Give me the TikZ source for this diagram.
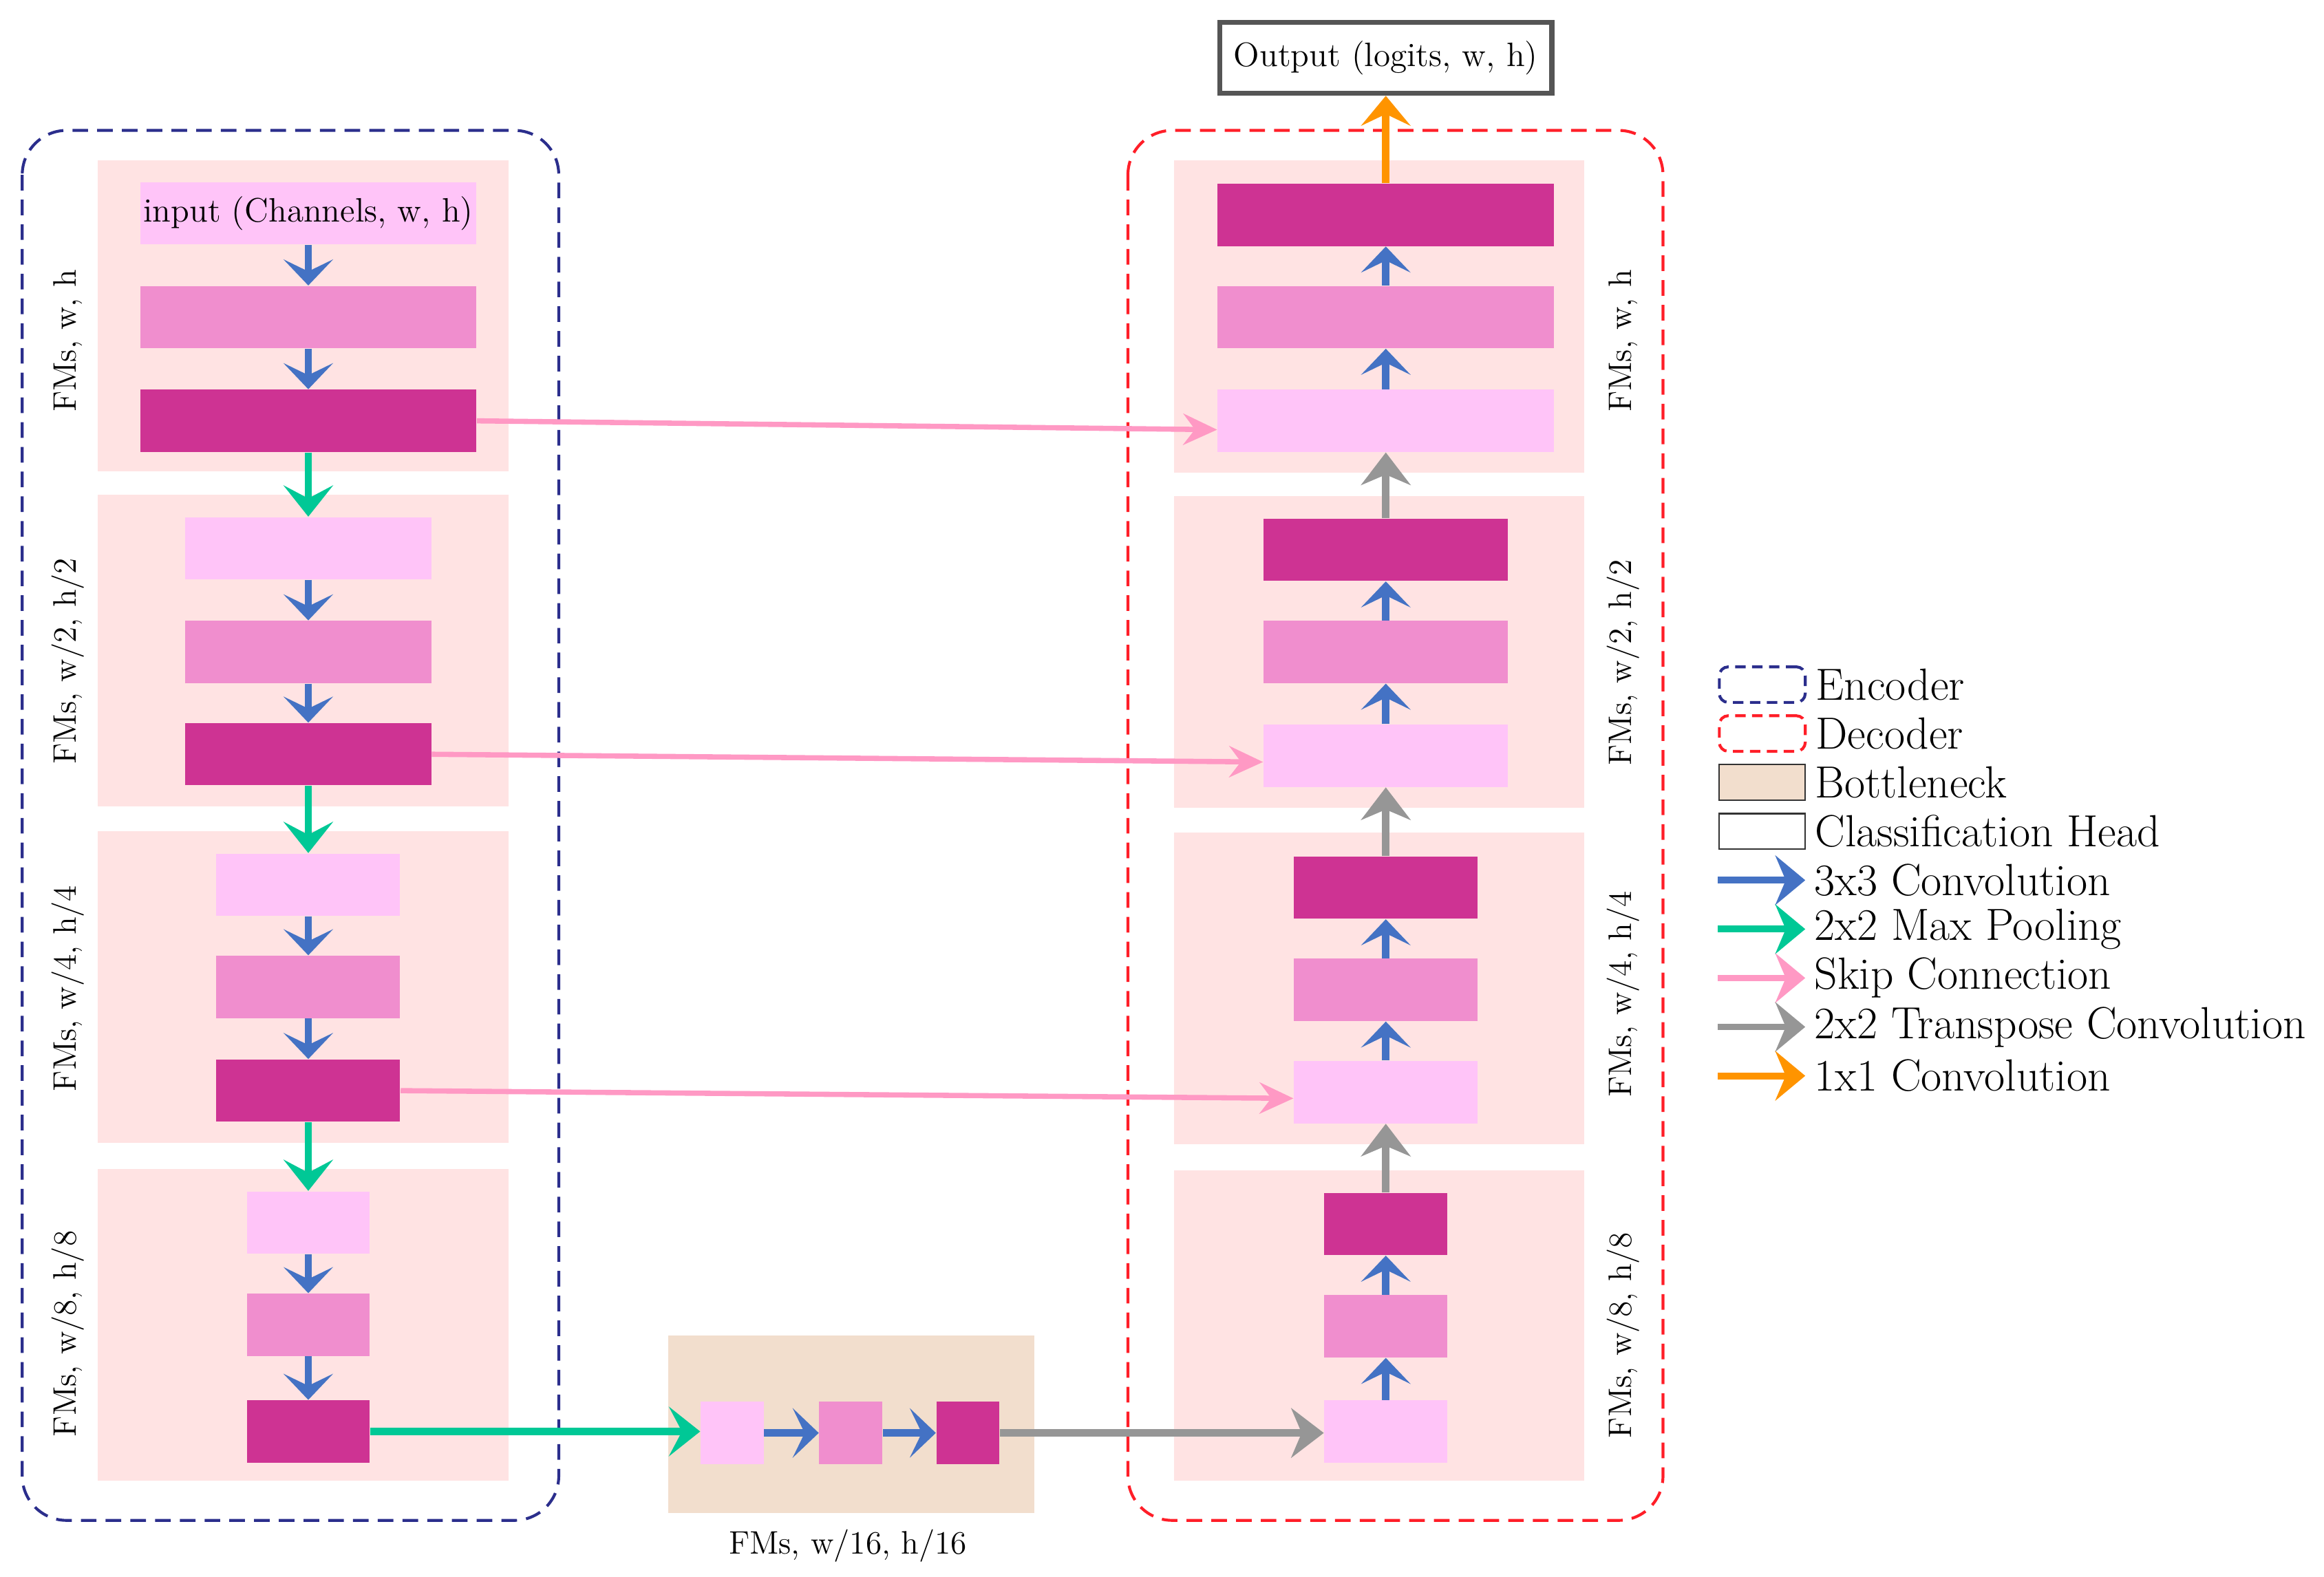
\documentclass[tikz,border=0pt]{standalone}
\usepackage{fontspec}
\usetikzlibrary{arrows.meta,positioning}

\definecolor{stageRose}{RGB}{255,227,227}
\definecolor{blockLight}{RGB}{255,196,248}
\definecolor{blockMid}{RGB}{240,142,206}
\definecolor{blockDark}{RGB}{206,51,147}
\definecolor{bottleTan}{RGB}{242,222,205}
\definecolor{convBlue}{RGB}{68,114,196}
\definecolor{poolGreen}{RGB}{0,200,150}
\definecolor{skipPink}{RGB}{255,153,196}
\definecolor{upGray}{RGB}{150,150,150}
\definecolor{headOrange}{RGB}{255,148,0}
\definecolor{encNavy}{RGB}{43,46,140}
\definecolor{decRed}{RGB}{255,30,40}
\definecolor{frameGray}{RGB}{85,85,85}

\begin{document}
\begin{tikzpicture}[x=0.02cm, y=-0.02cm, >=Stealth]

% --- Stijldefinities ---
\tikzset{
    block/.style={
        inner sep=0pt,
        minimum height=0.84cm,
        font=\fontsize{13}{15}\selectfont
    },
    lightBlock/.style={block, fill=blockLight},
    midBlock/.style={block, fill=blockMid},
    darkBlock/.style={block, fill=blockDark},
    convArrow/.style={
        draw=convBlue, line width=2.8pt,
        -{Stealth[length=10pt, width=19pt, inset=4.6pt]}
    },
    poolArrow/.style={
        draw=poolGreen, line width=2.8pt,
        -{Stealth[length=12pt, width=19pt, inset=5pt]}
    },
    skipArrow/.style={
        draw=skipPink, line width=2pt,
        -{Stealth[length=13pt, width=12pt, inset=4.5pt]}
    },
    transArrow/.style={
        draw=upGray, line width=2.8pt,
        -{Stealth[length=12.5pt, width=19pt, inset=4pt]}
    },
    headArrow/.style={
        draw=headOrange, line width=2.8pt,
        -{Stealth[length=11.5pt, width=19pt, inset=4.5pt]}
    },
    encoderFrame/.style={
        draw=encNavy, line width=1.1pt,
        dash pattern=on 6pt off 3.5pt, rounded corners=0.6cm
    },
    decoderFrame/.style={
        draw=decRed, line width=1.1pt,
        dash pattern=on 6pt off 3.5pt, rounded corners=0.6cm
    },
    stageLabel/.style={
        rotate=90,
        font=\fontsize{12.5}{15}\selectfont
    },
    legendBox/.style={
        minimum width=1.16cm, minimum height=0.48cm, inner sep=0pt
    },
    legendLabel/.style={
        anchor=west,
        font=\fontsize{17.3}{20}\selectfont
    },
    legendArrow/.style={
        draw=#1, line width=2.6pt,
        -{Stealth[length=11.5pt, width=19pt, inset=4pt]}
    }
}

\useasboundingbox (0,0) rectangle (1568,1064);

% =========================================================
% Achtergronden van de niveaus
% =========================================================

\fill[stageRose] (66,108) rectangle (343,318);
\fill[stageRose] (66,334) rectangle (343,544);
\fill[stageRose] (66,561) rectangle (343,771);
\fill[stageRose] (66,789) rectangle (343,999);

\fill[stageRose] (792,108) rectangle (1069,319);
\fill[stageRose] (792,335) rectangle (1069,545);
\fill[stageRose] (792,562) rectangle (1069,772);
\fill[stageRose] (792,790) rectangle (1069,999);

\fill[bottleTan] (451,901) rectangle (698,1021);

% Gestippelde kaders
\draw[encoderFrame] (15,88) rectangle (377,1026);
\draw[decoderFrame] (761,88) rectangle (1122,1026);

% =========================================================
% Encoder
% =========================================================

\node[lightBlock, minimum width=4.54cm] (e1a) at (208,144) {input (Channels, w, h)};
\node[midBlock, minimum width=4.54cm] (e1b) at (208,214) {};
\node[darkBlock, minimum width=4.54cm] (e1c) at (208,284) {};

\node[lightBlock, minimum width=3.32cm] (e2a) at (208,370) {};
\node[midBlock, minimum width=3.32cm] (e2b) at (208,440) {};
\node[darkBlock, minimum width=3.32cm] (e2c) at (208,509) {};

\node[lightBlock, minimum width=2.48cm] (e3a) at (208,597) {};
\node[midBlock, minimum width=2.48cm] (e3b) at (208,666) {};
\node[darkBlock, minimum width=2.48cm] (e3c) at (208,736) {};

\node[lightBlock, minimum width=1.66cm] (e4a) at (208,825) {};
\node[midBlock, minimum width=1.66cm] (e4b) at (208,894) {};
\node[darkBlock, minimum width=1.66cm] (e4c) at (208,966) {};

\draw[convArrow] (e1a.south) -- (e1b.north);
\draw[convArrow] (e1b.south) -- (e1c.north);
\draw[poolArrow] (e1c.south) -- (e2a.north);
\draw[convArrow] (e2a.south) -- (e2b.north);
\draw[convArrow] (e2b.south) -- (e2c.north);
\draw[poolArrow] (e2c.south) -- (e3a.north);
\draw[convArrow] (e3a.south) -- (e3b.north);
\draw[convArrow] (e3b.south) -- (e3c.north);
\draw[poolArrow] (e3c.south) -- (e4a.north);
\draw[convArrow] (e4a.south) -- (e4b.north);
\draw[convArrow] (e4b.south) -- (e4c.north);

% Labels
\node[stageLabel] (eLabA) at (46,230) {FMs, w, h};
\node[stageLabel] (eLabB) at (46,446) {FMs, w/2, h/2};
\node[stageLabel] (eLabC) at (46,667) {FMs, w/4, h/4};
\node[stageLabel] (eLabD) at (46,900) {FMs, w/8, h/8};

% =========================================================
% Bottleneck
% =========================================================

\node[lightBlock, minimum width=0.85cm] (b1) at (494,967) {};
\node[midBlock, minimum width=0.85cm] (b2) at (574,967) {};
\node[darkBlock, minimum width=0.85cm] (b3) at (653,967) {};

\draw[poolArrow] (e4c.east) -- (e4c.east -| b1.west);
\draw[convArrow] (b1.east) -- (b2.west);
\draw[convArrow] (b2.east) -- (b3.west);

\node[font=\fontsize{12.5}{15}\selectfont] (bLab) at (572,1043) {FMs, w/16, h/16};

% =========================================================
% Decoder
% =========================================================

\node[lightBlock, minimum width=1.66cm] (d4a) at (935,966) {};
\node[midBlock, minimum width=1.66cm] (d4b) at (935,895) {};
\node[darkBlock, minimum width=1.66cm] (d4c) at (935,826) {};

\node[lightBlock, minimum width=2.48cm] (d3a) at (935,737) {};
\node[midBlock, minimum width=2.48cm] (d3b) at (935,668) {};
\node[darkBlock, minimum width=2.48cm] (d3c) at (935,599) {};

\node[lightBlock, minimum width=3.3cm] (d2a) at (935,510) {};
\node[midBlock, minimum width=3.3cm] (d2b) at (935,440) {};
\node[darkBlock, minimum width=3.3cm] (d2c) at (935,371) {};

\node[lightBlock, minimum width=4.54cm] (d1a) at (935,284) {};
\node[midBlock, minimum width=4.54cm] (d1b) at (935,214) {};
\node[darkBlock, minimum width=4.54cm] (d1c) at (935,145) {};

\node[draw=frameGray, line width=1.9pt, fill=white, minimum width=4.48cm,
      minimum height=0.96cm, font=\fontsize{13}{15}\selectfont]
      (output) at (935,39) {Output (logits, w, h)};

\draw[transArrow] (b3.east) -- (b3.east -| d4a.west);
\draw[convArrow] (d4a.north) -- (d4b.south);
\draw[convArrow] (d4b.north) -- (d4c.south);
\draw[transArrow] (d4c.north) -- (d3a.south);
\draw[convArrow] (d3a.north) -- (d3b.south);
\draw[convArrow] (d3b.north) -- (d3c.south);
\draw[transArrow] (d3c.north) -- (d2a.south);
\draw[convArrow] (d2a.north) -- (d2b.south);
\draw[convArrow] (d2b.north) -- (d2c.south);
\draw[transArrow] (d2c.north) -- (d1a.south);
\draw[convArrow] (d1a.north) -- (d1b.south);
\draw[convArrow] (d1b.north) -- (d1c.south);
\draw[headArrow] (d1c.north) -- (output.south);

% Skip-verbindingen
\draw[skipArrow] (e1c.east) -- ([yshift=-3.4pt]d1a.west);
\draw[skipArrow] (e2c.east) -- ([yshift=-2.4pt]d2a.west);
\draw[skipArrow] (e3c.east) -- ([yshift=-2.4pt]d3a.west);

% Labels
\node[stageLabel] (dLabA) at (1095,230) {FMs, w, h};
\node[stageLabel] (dLabB) at (1095,447) {FMs, w/2, h/2};
\node[stageLabel] (dLabC) at (1095,671) {FMs, w/4, h/4};
\node[stageLabel] (dLabD) at (1095,901) {FMs, w/8, h/8};

% =========================================================
% Legenda
% =========================================================

\node[legendBox, draw=encNavy, line width=1.1pt, dash pattern=on 4pt off 2.5pt,
      rounded corners=0.12cm] (lgEncBox) at (1189,462) {};
\node[legendLabel, right=0pt of lgEncBox] (lgEnc) {Encoder};

\node[legendBox, draw=decRed, line width=1.1pt, dash pattern=on 4pt off 2.5pt,
      rounded corners=0.12cm] (lgDecBox) at (1189,495) {};
\node[legendLabel, right=0pt of lgDecBox] (lgDec) {Decoder};

\node[legendBox, draw=black!80, fill=bottleTan, line width=0.6pt] (lgBotBox) at (1189,528) {};
\node[legendLabel, right=0pt of lgBotBox] (lgBot) {Bottleneck};

\node[legendBox, draw=black!80, line width=0.6pt] (lgHeadBox) at (1189,561) {};
\node[legendLabel, right=0pt of lgHeadBox] (lgHead) {Classification Head};

\node[legendLabel] (lgConv) at (1218,594) {3x3 Convolution};
\node[legendLabel] (lgPool) at (1218,627) {2x2 Max Pooling};
\node[legendLabel] (lgSkip) at (1218,660) {Skip Connection};
\node[legendLabel] (lgTrans) at (1218,693) {2x2 Transpose Convolution};
\node[legendLabel] (lgOne) at (1218,726) {1x1 Convolution};

\draw[legendArrow=convBlue] ([xshift=-1.18cm]lgConv.west) -- (lgConv.west);
\draw[legendArrow=poolGreen] ([xshift=-1.18cm]lgPool.west) -- (lgPool.west);
\draw[legendArrow=skipPink] ([xshift=-1.18cm]lgSkip.west) -- (lgSkip.west);
\draw[legendArrow=upGray] ([xshift=-1.18cm]lgTrans.west) -- (lgTrans.west);
\draw[legendArrow=headOrange] ([xshift=-1.18cm]lgOne.west) -- (lgOne.west);

\end{tikzpicture}
\end{document}
